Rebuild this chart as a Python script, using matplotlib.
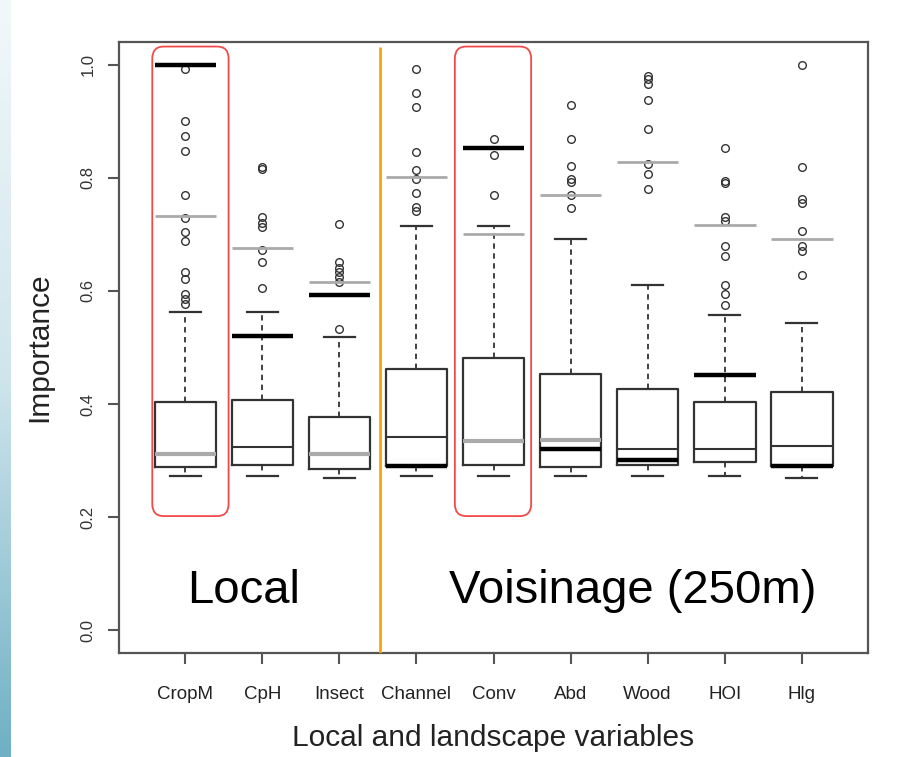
#!/usr/bin/env python3

import numpy as np
import matplotlib.pyplot as plt
from matplotlib.colors import LinearSegmentedColormap
from matplotlib.patches import FancyBboxPatch

variables = ["CropM", "CpH", "Insect", "Channel", "Conv", "Abd", "Wood", "HOI", "Hlg"]

# box statistics
q1 = [0.289, 0.292, 0.285, 0.290, 0.292, 0.289, 0.292, 0.297, 0.290]
med = [0.311, 0.325, 0.311, 0.342, 0.335, 0.336, 0.321, 0.321, 0.326]
q3 = [0.403, 0.408, 0.378, 0.462, 0.481, 0.454, 0.426, 0.403, 0.422]
whislo = [0.273, 0.273, 0.270, 0.273, 0.273, 0.273, 0.273, 0.273, 0.270]
whishi = [0.562, 0.562, 0.518, 0.714, 0.714, 0.691, 0.611, 0.557, 0.543]

fliers = [
    [0.993, 0.900, 0.874, 0.847, 0.769, 0.729, 0.704, 0.689, 0.633, 0.621, 0.595, 0.586, 0.577],
    [0.819, 0.815, 0.730, 0.720, 0.713, 0.673, 0.651, 0.605],
    [0.718, 0.651, 0.640, 0.633, 0.624, 0.615, 0.533],
    [0.992, 0.949, 0.925, 0.845, 0.813, 0.798, 0.773, 0.748, 0.742],
    [0.869, 0.841, 0.769],
    [0.929, 0.869, 0.820, 0.798, 0.793, 0.770, 0.746],
    [0.980, 0.975, 0.966, 0.937, 0.887, 0.824, 0.806, 0.781],
    [0.853, 0.795, 0.790, 0.730, 0.724, 0.680, 0.661, 0.611, 0.595, 0.575],
    [1.000, 0.819, 0.763, 0.756, 0.706, 0.680, 0.671, 0.628],
]

# reference lines drawn over the boxes
gray_vals = [0.732, 0.676, 0.615, 0.801, 0.701, 0.770, 0.828, 0.716, 0.691]
black_vals = [1.000, 0.521, 0.592, 0.290, 0.853, 0.320, 0.301, 0.452, 0.290]
gray_med = [True, False, True, False, True, True, False, False, False]

# highlighted variables: (name, left edge, width) of the red frame
frames = [("CropM", 0.571, 0.99), ("Conv", 4.498, 0.99)]
split_x = 3.52
group_labels = ["Local", "Voisinage (250m)"]
group_x = [1.754, 6.806]

fig = plt.figure(figsize=(9.16, 7.57), dpi=100)

# slide background strip on the left
bg = fig.add_axes([0, 0, 0.012, 1])
grad = np.linspace(0, 1, 256).reshape(-1, 1)
bg.imshow(grad, aspect="auto", extent=[0, 1, 0, 1], origin="lower",
          cmap=LinearSegmentedColormap.from_list("strip", ["#6fb0c4", "#cfe5ec", "#f2f8fa"]))
bg.axis("off")

ax = fig.add_axes([0.130, 0.1374, 0.8176, 0.8071])

dark = "#333333"
pos = np.arange(1, len(variables) + 1)
stats = []
for i, name in enumerate(variables):
    stats.append(dict(label=name, q1=q1[i], med=med[i], q3=q3[i],
                      whislo=whislo[i], whishi=whishi[i], fliers=fliers[i]))

ax.bxp(stats, positions=pos, widths=0.8, showfliers=True,
       boxprops=dict(color=dark, linewidth=1.6),
       medianprops=dict(color=dark, linewidth=1.5),
       whiskerprops=dict(color=dark, linewidth=1.3, linestyle=(0, (3, 2.5))),
       capprops=dict(color=dark, linewidth=1.6),
       capwidths=0.4,
       flierprops=dict(marker="o", markersize=5.5, markerfacecolor="none",
                       markeredgecolor=dark, markeredgewidth=1.0))

for i in range(len(variables)):
    ax.hlines(gray_vals[i], pos[i] - 0.4, pos[i] + 0.4, color="#aaaaaa", linewidth=2.0, zorder=4)
    if gray_med[i]:
        ax.hlines(med[i], pos[i] - 0.4, pos[i] + 0.4, color="#aaaaaa", linewidth=3.0, zorder=4)
    ax.hlines(black_vals[i], pos[i] - 0.4, pos[i] + 0.4, color="black", linewidth=3.2, zorder=5)

# red rounded frames around highlighted variables
for name, left, width in frames:
    rect = FancyBboxPatch((left, 0.202), width, 0.83,
                          boxstyle="round,pad=0,rounding_size=0.15",
                          mutation_aspect=0.139, fill=False,
                          edgecolor="#f24a4a", linewidth=1.3, zorder=6)
    ax.add_patch(rect)

ax.vlines(split_x, -0.04, 1.032, color="#ffa500", linewidth=2.0, zorder=6)

for x, lab in zip(group_x, group_labels):
    ax.text(x, 0.069, lab, fontsize=34, family="Liberation Sans", ha="center", va="center")

ax.set_xlim(0.14, 9.86)
ax.set_ylim(-0.04, 1.04)
ax.set_yticks([0.0, 0.2, 0.4, 0.6, 0.8, 1.0])
ax.set_yticklabels(["0.0", "0.2", "0.4", "0.6", "0.8", "1.0"], rotation=90, va="center",
                   fontsize=12, family="Liberation Sans", color="#333333")
ax.set_xticks(pos)
ax.set_xticklabels(variables, fontsize=13.5, family="Liberation Sans", color="#222222")
ax.tick_params(axis="both", length=8, width=1.5, color="#555555")
ax.tick_params(axis="x", pad=16)
ax.tick_params(axis="y", pad=9)
for s in ax.spines.values():
    s.set_color("#555555")
    s.set_linewidth(1.6)

ax.set_xlabel("Local and landscape variables", fontsize=21.5, family="Liberation Sans",
              color="#222222")
ax.set_ylabel("Importance", fontsize=21.5, family="Liberation Sans", color="#222222")
ax.xaxis.set_label_coords(0.5, -0.116)
ax.yaxis.set_label_coords(-0.088, 0.5)

fig.savefig("out.png", dpi=100)
